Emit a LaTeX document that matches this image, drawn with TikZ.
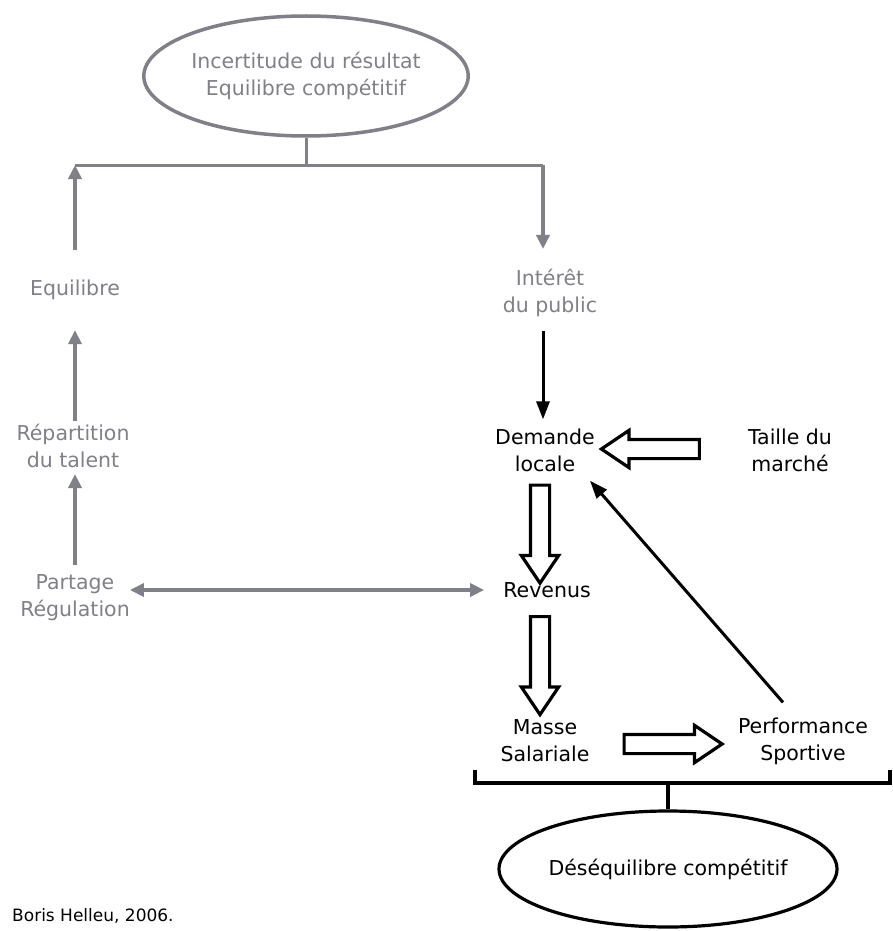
\documentclass[tikz,border=0pt]{standalone}
\usepackage{fontspec}
\setmainfont{DejaVu Sans}
\usetikzlibrary{arrows.meta,shapes.geometric,shapes.arrows,calc}
\definecolor{grisclair}{RGB}{128,128,136}

\begin{document}
\begin{tikzpicture}[x=1pt,y=-1pt,
  lbl/.style={align=center,inner sep=0pt,font=\fontsize{20.5}{27}\selectfont},
  gris/.style={lbl,text=grisclair},
  fgris/.style={draw=grisclair,line width=3.5pt,>={Triangle[length=14pt,width=13pt]},->},
  fnoir/.style={draw=black,line width=3pt,-{Triangle[length=18pt,width=13pt]}},
  creux/.style={single arrow,draw,line width=3.2pt,inner sep=0pt,inner ysep=8pt,
    single arrow head extend=9pt,single arrow tip angle=68,minimum height=98pt}]
  \useasboundingbox (0,0) rectangle (892,931);
  % ellipses
  \node[gris,ellipse,draw=grisclair,line width=3.5pt,minimum width=318pt,minimum height=120pt] (incert) at (306,76) {Incertitude du résultat\\Equilibre compétitif};
  \node[lbl,ellipse,draw,line width=3.2pt,minimum width=324pt,minimum height=116pt] (deseq) at (668,869) {Déséquilibre compétitif};
  % gauche
  \node[gris] (eq) at (75,290) {Equilibre};
  \node[gris] (rep) at (73,446) {Répartition\\du talent};
  \node[gris] (par) at (75,598) {Partage\\Régulation};
  % droite
  \node[gris] (int) at (550,293) {Intérêt\\du public};
  \node[lbl] (dem) at (545,450) {Demande\\locale};
  \node[lbl] (taille) at (790,450) {Taille du\\marché};
  \node[lbl] (rev) at (547,590) {Revenus};
  \node[lbl] (mas) at (545,741) {Masse\\Salariale};
  \node[lbl] (perf) at (803,741) {Performance\\Sportive};
  \node[lbl,anchor=base west,font=\fontsize{17}{20}\selectfont] (source) at (12,921) {Boris Helleu, 2006.};

  \coordinate (topL) at (75,165);
  \coordinate (topR) at (543,165);
  \coordinate (brL) at (475,783);
  \coordinate (brR) at (890,783);

  % liaisons grises
  \draw[grisclair,line width=3pt] (incert.south) -- (incert.south |- topL);
  \draw[grisclair,line width=3pt] (topL) -- (topR);
  \draw[fgris,shorten <=30pt] (eq.north) -- (topL);
  \draw[fgris,shorten >=20pt] (topR) -- (int.north -| topR);
  \draw[fgris,shorten <=3pt,shorten >=30pt] (eq.south |- rep.north) -- (eq.south);
  \draw[fgris,shorten <=10pt,shorten >=6pt] (par.north) -- (par.north |- rep.south);
  \draw[fgris,<->,shorten >=19pt] (par.east |- rev.west) -- (rev.west);

  % liaisons noires
  \draw[fnoir,shorten <=14pt,shorten >=9pt] (int.south -| topR) -- (dem.north -| topR);
  \draw[fnoir] ([shift={(-20pt,15pt)}]perf.north) -- ([shift={(-5pt,-9pt)}]dem.south east);
  \node[creux,rotate=180] (tm) at ($(taille)!0.5!(dem)+(-10,-1)$) {};
  \node[creux,rotate=-90] (dr) at ($(dem)!0.5!(rev)+(-6,7)$) {};
  \node[creux,rotate=-90] (rm) at ($(rev)!0.5!(mas)+(-6,-7)$) {};
  \node[creux] (mp) at ($(mas)!0.5!(perf)+(-8,3)$) {};

  % accolade du bas
  \draw[line width=3.2pt] ([yshift=13pt]brL) -- (brL) -- (brR) -- ([yshift=13pt]brR);
  \draw[line width=3.2pt] (deseq.north) -- (deseq.north |- brL);
\end{tikzpicture}
\end{document}
